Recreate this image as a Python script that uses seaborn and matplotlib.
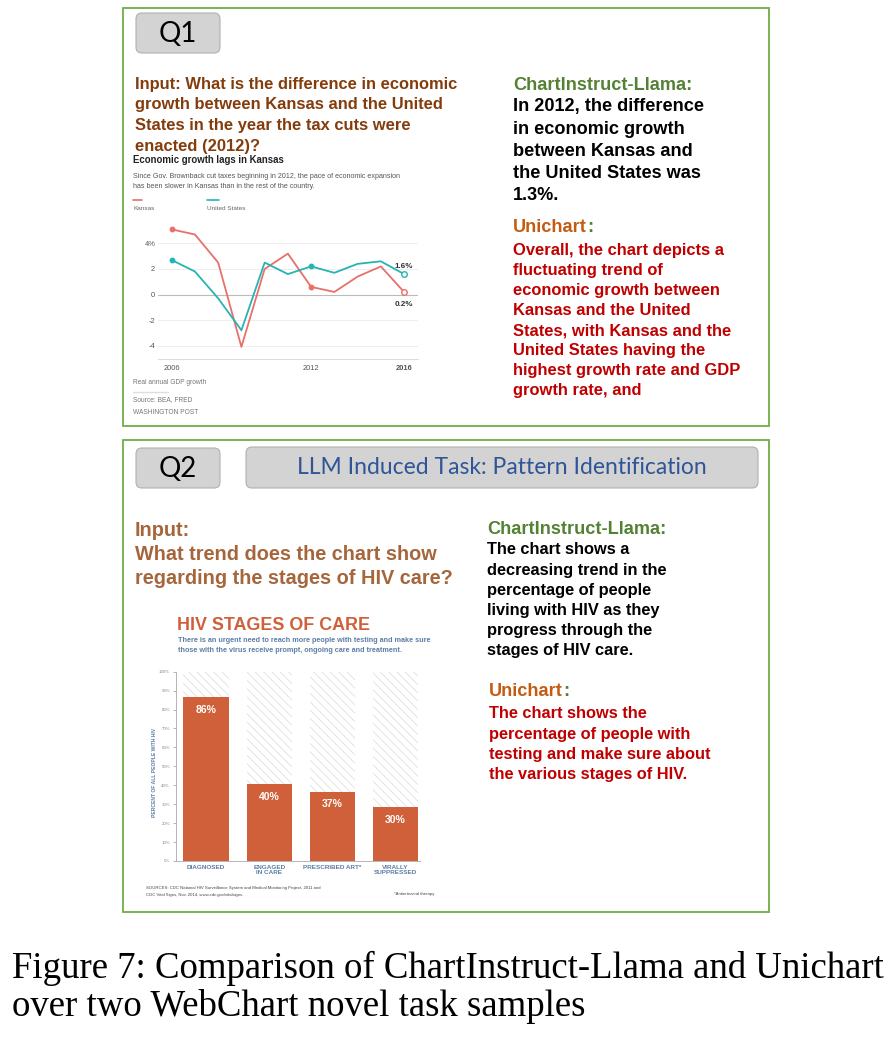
import seaborn as sns
import matplotlib.pyplot as plt
import pandas as pd
from matplotlib.patches import Rectangle, FancyBboxPatch

# Data: Q1 line chart (real annual GDP growth, %)
years = [2006, 2007, 2008, 2009, 2010, 2011, 2012, 2013, 2014, 2015, 2016]
kansas = [5.1, 4.7, 2.5, -4.1, 2.0, 3.2, 0.6, 0.2, 1.4, 2.2, 0.2]
united_states = [2.7, 1.8, -0.3, -2.8, 2.5, 1.6, 2.2, 1.7, 2.4, 2.6, 1.6]
line_yticks = [-4, -2, 0, 2, 4]
line_ytick_labels = ["-4", "-2", "0", "2", "4%"]
line_xticks = [2006, 2012, 2016]

# Data: Q2 bar chart (HIV stages of care)
stages = ["DIAGNOSED", "ENGAGED\nIN CARE", "PRESCRIBED ART*", "VIRALLY\nSUPPRESSED"]
stage_values = [86.5, 40.5, 36.5, 28.5]
stage_labels = ["86%", "40%", "37%", "30%"]
bar_yticks = list(range(0, 101, 10))

W, H = 893, 1037
SANS = ["Liberation Sans", "DejaVu Sans"]

sns.set_theme(style="white")
plt.rcParams["font.family"] = SANS
plt.rcParams["hatch.linewidth"] = 0.5

fig = plt.figure(figsize=(W / 100, H / 100), dpi=100)
renderer = fig.canvas.get_renderer()


def px_axes(left, top, right, bottom):
    # axes rectangle given in pixel coordinates (origin at top-left)
    return fig.add_axes([left / W, 1 - bottom / H, (right - left) / W, (bottom - top) / H])


# Background canvas in pixel units
bg = fig.add_axes([0, 0, 1, 1], zorder=0)
bg.set_xlim(0, W)
bg.set_ylim(H, 0)
bg.axis("off")


def label_with_colon(x, y, word, size, word_color, colon_color):
    t = bg.text(x, y, word, fontsize=size, weight="bold", color=word_color, va="center")
    bb = t.get_window_extent(renderer=renderer)
    bg.text(x + bb.width, y, ":", fontsize=size, weight="bold", color=colon_color, va="center")


green = "#70AD47"
bg.add_patch(Rectangle((123, 8), 646, 418, fill=False, edgecolor=green, lw=1.3))
bg.add_patch(Rectangle((123, 440), 646, 472, fill=False, edgecolor=green, lw=1.3))

for (x0, y0, w, h) in [(136, 13, 84, 40), (136, 448, 84, 40), (246, 447, 512, 41)]:
    bg.add_patch(FancyBboxPatch((x0, y0), w, h, boxstyle="round,pad=0,rounding_size=6",
                                facecolor="#D3D3D3", edgecolor="#B0B0B0", lw=0.8))
bg.text(178, 34, "Q1", fontsize=20, family=["Lato", "DejaVu Sans"], ha="center", va="center", color="black")
bg.text(178, 469, "Q2", fontsize=20, family=["Lato", "DejaVu Sans"], ha="center", va="center", color="black")
bg.text(502, 468, "LLM Induced Task: Pattern Identification", fontsize=16.5,
        family=["Lato", "DejaVu Sans"], ha="center", va="center", color="#2F5597")

# ---- Q1 texts ----
brown = "#843C0C"
q1_input = ["Input: What is the difference in economic", "growth between Kansas and the United",
            "States in the year the tax cuts were", "enacted (2012)?"]
for i, line in enumerate(q1_input):
    bg.text(135, 84 + i * 20.7, line, fontsize=11.9, weight="bold", color=brown, va="center")

label_green = "#548235"
orange = "#C55A11"
red = "#C00000"

bg.text(513, 86, "ChartInstruct-Llama:", fontsize=13.1, weight="bold", color=label_green, va="center")
q1_llama = ["In 2012, the difference", "in economic growth", "between Kansas and",
            "the United States was", "1.3%."]
for i, line in enumerate(q1_llama):
    bg.text(513, 107 + i * 22, line, fontsize=13.1, weight="bold", color="black", va="center")

label_with_colon(513, 228, "Unichart", 13.1, orange, label_green)
q1_uni = ["Overall, the chart depicts a", "fluctuating trend of", "economic growth between",
          "Kansas and the United", "States, with Kansas and the", "United States having the",
          "highest growth rate and GDP", "growth rate, and"]
for i, line in enumerate(q1_uni):
    bg.text(513, 251 + i * 19.9, line, fontsize=11.9, weight="bold", color=red, va="center")

# Q1 embedded chart texts
bg.text(133, 160, "Economic growth lags in Kansas", fontsize=6.9, weight="bold", color="#222222", va="center")
bg.text(133, 176, "Since Gov. Brownback cut taxes beginning in 2012, the pace of economic expansion",
        fontsize=5.1, color="#555555", va="center")
bg.text(133, 187, "has been slower in Kansas than in the rest of the country.",
        fontsize=5.1, color="#555555", va="center")
kansas_c = "#E8706A"
us_c = "#26B3B3"
bg.plot([133, 142], [200, 200], color=kansas_c, lw=1.2)
bg.plot([207, 219], [200, 200], color=us_c, lw=1.2)
bg.text(133, 208, "Kansas", fontsize=4.6, color="#666666", va="center")
bg.text(207, 208, "United States", fontsize=4.6, color="#666666", va="center")
bg.text(133, 383, "Real annual GDP growth", fontsize=4.8, color="#777777", va="center")
bg.plot([133, 168], [392, 392], color="#DDDDDD", lw=1)
bg.text(133, 400, "Source: BEA, FRED", fontsize=4.8, color="#777777", va="center")
bg.text(133, 413, "WASHINGTON POST", fontsize=4.8, color="#777777", va="center")

# Q1 line chart
ax1 = px_axes(158, 223, 418, 359)
ax1.set_zorder(1)
ax1.patch.set_alpha(0)
df = pd.DataFrame({
    "year": years * 2,
    "growth": kansas + united_states,
    "series": ["Kansas"] * len(years) + ["United States"] * len(years),
})
for v in line_yticks:
    ax1.axhline(v, color="#BBBBBB" if v == 0 else "#EBEBEB", lw=0.8 if v == 0 else 0.6, zorder=0)
sns.lineplot(data=df, x="year", y="growth", hue="series", palette={"Kansas": kansas_c, "United States": us_c},
             lw=1.3, legend=False, ax=ax1)
for vals, c in [(kansas, kansas_c), (united_states, us_c)]:
    for yr in [2006, 2012]:
        ax1.plot(yr, vals[years.index(yr)], "o", color=c, ms=3.2)
    ax1.plot(2016, vals[-1], "o", mfc="white", mec=c, mew=1, ms=4)
ax1.annotate(f"{united_states[-1]:.1f}%", (2016, united_states[-1]), xytext=(0, 4.5),
             textcoords="offset points", ha="center", fontsize=5.8, weight="bold", color="#333333")
ax1.annotate(f"{kansas[-1]:.1f}%", (2016, kansas[-1]), xytext=(0, -10),
             textcoords="offset points", ha="center", fontsize=5.8, weight="bold", color="#333333")
ax1.set_xlim(2005.41, 2016.6)
ax1.set_ylim(-5.05, 5.6)
ax1.set_yticks(line_yticks)
ax1.set_yticklabels(line_ytick_labels)
ax1.set_xticks(line_xticks)
ax1.set_xticklabels([str(y) for y in line_xticks])
ax1.get_xticklabels()[-1].set_fontweight("bold")
ax1.tick_params(axis="both", length=0, labelsize=5.4, labelcolor="#555555")
ax1.tick_params(axis="y", pad=2)
ax1.tick_params(axis="x", pad=4)
ax1.set_xlabel("")
ax1.set_ylabel("")
for s in ["top", "left", "right"]:
    ax1.spines[s].set_visible(False)
ax1.spines["bottom"].set_color("#DDDDDD")
ax1.spines["bottom"].set_linewidth(0.8)

# ---- Q2 texts ----
q2_brown = "#A5663C"
q2_input = ["Input:", "What trend does the chart show", "regarding the stages of HIV care?"]
for i, line in enumerate(q2_input):
    bg.text(135, 531 + i * 24, line, fontsize=14.3, weight="bold", color=q2_brown, va="center")

bg.text(487, 530, "ChartInstruct-Llama:", fontsize=13.1, weight="bold", color=label_green, va="center")
q2_llama = ["The chart shows a", "decreasing trend in the", "percentage of people",
            "living with HIV as they", "progress through the", "stages of HIV care."]
for i, line in enumerate(q2_llama):
    bg.text(487, 550 + i * 20, line, fontsize=11.8, weight="bold", color="black", va="center")

label_with_colon(489, 692, "Unichart", 13.1, orange, label_green)
q2_uni = ["The chart shows the", "percentage of people with", "testing and make sure about",
          "the various stages of HIV."]
for i, line in enumerate(q2_uni):
    bg.text(489, 714 + i * 20, line, fontsize=11.8, weight="bold", color=red, va="center")

# Q2 embedded chart texts
hiv_orange = "#D0603A"
hiv_blue = "#5B7FA6"
bg.text(177, 626, "HIV STAGES OF CARE", fontsize=12.9, weight="bold", color=hiv_orange, va="center")
bg.text(178, 641, "There is an urgent need to reach more people with testing and make sure",
        fontsize=5.2, weight="bold", color=hiv_blue, va="center")
bg.text(178, 651, "those with the virus receive prompt, ongoing care and treatment.",
        fontsize=5.2, weight="bold", color=hiv_blue, va="center")
bg.text(155, 772, "PERCENT OF ALL PEOPLE WITH HIV", fontsize=3.6, weight="bold",
        color=hiv_blue, rotation=90, ha="center", va="center")
bg.text(146, 888, "SOURCES: CDC National HIV Surveillance System and Medical Monitoring Project, 2011 and",
        fontsize=3.1, color="#444444", va="center")
bg.text(146, 895, "CDC Vital Signs, Nov. 2014, www.cdc.gov/vitalsigns.", fontsize=3.1, color="#444444", va="center")
bg.text(394, 894, "*Antiretroviral therapy", fontsize=3.1, color="#444444", va="center")

# Q2 bar chart
ax2 = px_axes(175.7, 671.7, 420, 861)
ax2.set_zorder(1)
ax2.patch.set_alpha(0)
bars = pd.DataFrame({"stage": stages, "value": stage_values, "full": [100] * len(stages)})
sns.barplot(data=bars, x="stage", y="full", color="white", edgecolor="#DADADA", hatch="\\\\\\\\",
            linewidth=0, width=0.72, ax=ax2, zorder=1)
sns.barplot(data=bars, x="stage", y="value", color=hiv_orange, saturation=1, linewidth=0,
            width=0.72, ax=ax2, zorder=2)
for i, (v, lab) in enumerate(zip(stage_values, stage_labels)):
    ax2.text(i, v - 4, lab, ha="center", va="top", color="white", fontsize=7.5, weight="bold", zorder=3)
ax2.set_xlim(-0.483, 3.39)
ax2.set_ylim(0, 100)
ax2.set_yticks(bar_yticks)
ax2.set_yticklabels([f"{t}%" for t in bar_yticks])
ax2.tick_params(axis="y", length=2, width=0.5, color="#999999", labelsize=3.2, labelcolor="#888888", pad=2, left=True)
ax2.tick_params(axis="x", length=0, labelsize=4.6, labelcolor=hiv_blue, pad=3)
for lab in ax2.get_xticklabels():
    lab.set_fontweight("bold")
    lab.set_linespacing(0.9)
ax2.set_xlabel("")
ax2.set_ylabel("")
for s in ["top", "right"]:
    ax2.spines[s].set_visible(False)
ax2.spines["left"].set_color("#AAAAAA")
ax2.spines["left"].set_linewidth(0.6)
ax2.spines["bottom"].set_color("#AAAAAA")
ax2.spines["bottom"].set_linewidth(0.6)

# Caption
cap_font = ["Liberation Serif", "DejaVu Serif"]
fig.text(12 / W, 1 - 968 / H, "Figure 7: Comparison of ChartInstruct-Llama and Unichart",
         fontsize=26.5, family=cap_font, va="center", color="black")
fig.text(12 / W, 1 - 1007 / H, "over two WebChart novel task samples",
         fontsize=26.5, family=cap_font, va="center", color="black")

fig.savefig("out.png", dpi=100, facecolor="white")
